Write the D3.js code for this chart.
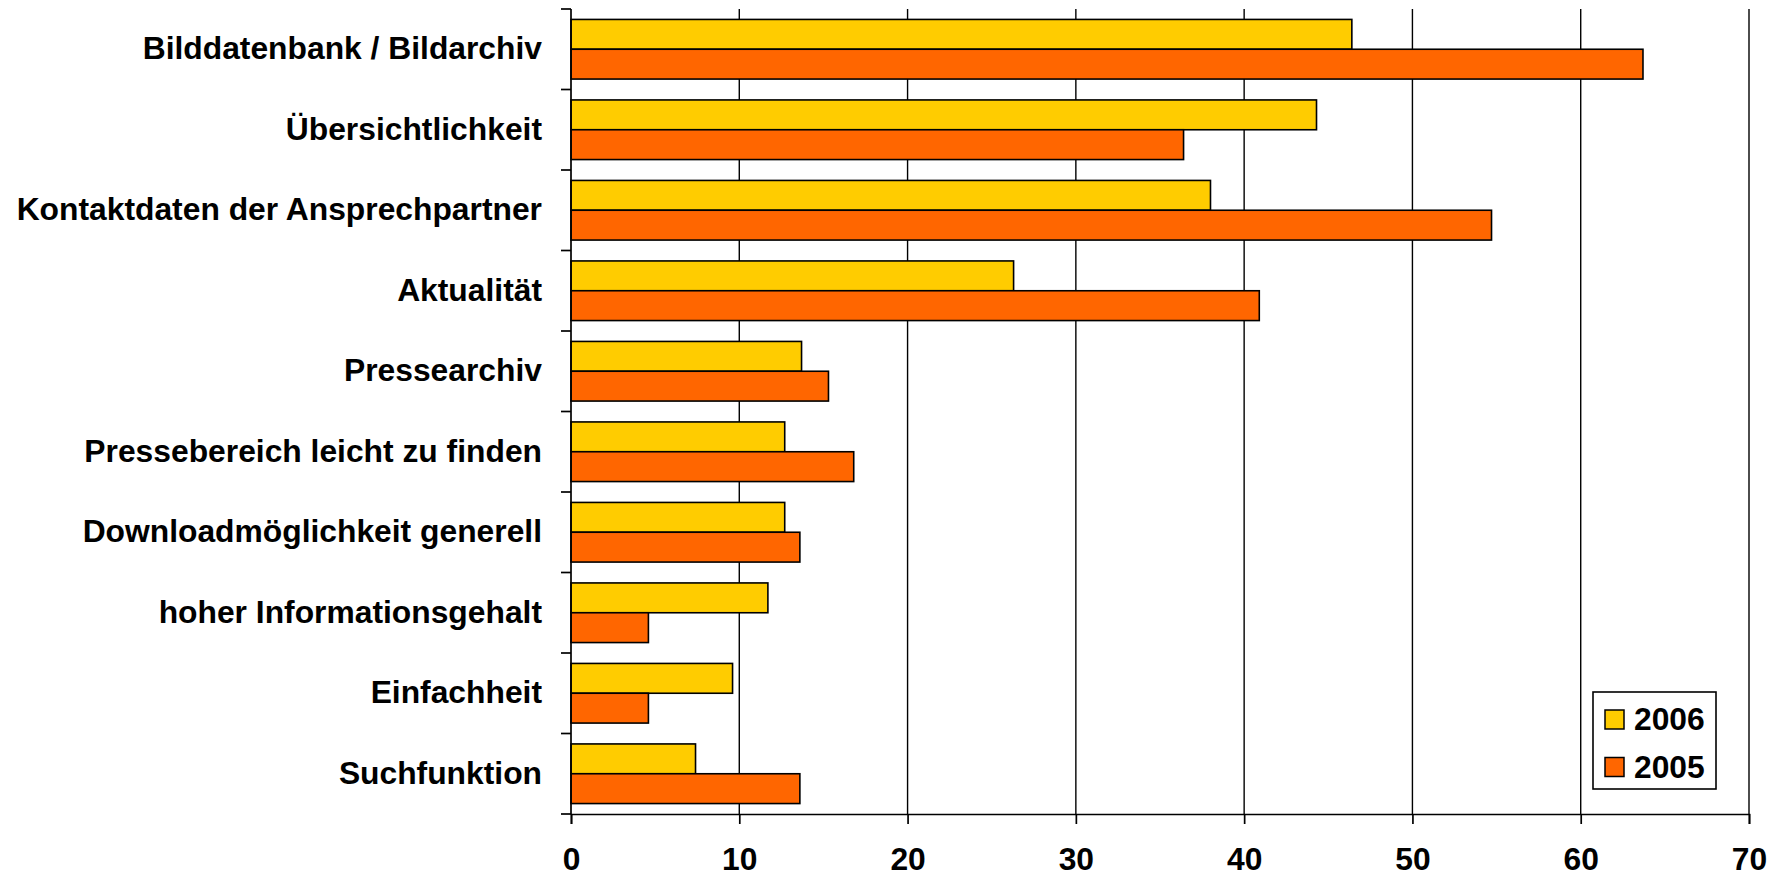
<!DOCTYPE html>
<html>
<head>
<meta charset="utf-8">
<script src="https://cdn.jsdelivr.net/npm/d3@7"></script>
<style>
  html, body { margin: 0; padding: 0; background: #fff; }
  svg { display: block; }
</style>
</head>
<body>
<script>
const categories = [
  "Bilddatenbank / Bildarchiv",
  "Übersichtlichkeit",
  "Kontaktdaten der Ansprechpartner",
  "Aktualität",
  "Pressearchiv",
  "Pressebereich leicht zu finden",
  "Downloadmöglichkeit generell",
  "hoher Informationsgehalt",
  "Einfachheit",
  "Suchfunktion"
]
const series = ["2006", "2005"]
const values2006 = [46.4, 44.3, 38.0, 26.3, 13.7, 12.7, 12.7, 11.7, 9.6, 7.4]
const values2005 = [63.7, 36.4, 54.7, 40.9, 15.3, 16.8, 13.6, 4.6, 4.6, 13.6]
const xTicks = [0, 10, 20, 30, 40, 50, 60, 70]

const colors = { "2006": "#FFCC00", "2005": "#FF6600" }
const data = categories.map((c, i) => ({
  label: c,
  "2006": values2006[i],
  "2005": values2005[i]
}))

const width = 1782, height = 878
const margin = { top: 9, right: 33, bottom: 64, left: 571 }
const innerW = width - margin.left - margin.right
const innerH = height - margin.top - margin.bottom
const font = "'Liberation Sans', Arial, Helvetica, sans-serif"
const fontSize = "31.8px"

const svg = d3.select("body").append("svg")
  .attr("width", width)
  .attr("height", height)
  .style("font-family", font)
  .style("font-weight", "bold")

const g = svg.append("g")
  .attr("transform", `translate(${margin.left},${margin.top})`)

const x = d3.scaleLinear()
  .domain([0, 70])
  .range([0, innerW])

const y = d3.scaleBand()
  .domain(categories)
  .range([0, innerH])
  .padding(0)

// gap width 70% -> 0.35 on each side of the pair
const y1 = d3.scaleBand()
  .domain(series)
  .range([0, y.bandwidth()])
  .paddingInner(0)
  .paddingOuter(0.35)

// vertical gridlines
g.append("g")
  .selectAll("line")
  .data(xTicks.slice(1))
  .enter().append("line")
    .attr("x1", d => x(d))
    .attr("x2", d => x(d))
    .attr("y1", 0)
    .attr("y2", innerH)
    .attr("stroke", "#000")
    .attr("stroke-width", 1.4)

// bars
const groups = g.append("g")
  .selectAll("g")
  .data(data)
  .enter().append("g")
    .attr("transform", d => `translate(0,${y(d.label)})`)

groups.selectAll("rect")
  .data(d => series.map(s => ({ key: s, value: d[s] })))
  .enter().append("rect")
    .attr("x", 0)
    .attr("y", d => y1(d.key))
    .attr("width", d => x(d.value))
    .attr("height", y1.bandwidth())
    .attr("fill", d => colors[d.key])
    .attr("stroke", "#000")
    .attr("stroke-width", 1.6)

// x axis
const xAxis = g.append("g")
  .attr("transform", `translate(0,${innerH})`)
  .call(d3.axisBottom(x).tickValues(xTicks).tickSize(10).tickPadding(23))
xAxis.select(".domain").attr("stroke-width", 1.7)
xAxis.selectAll(".tick line").attr("stroke-width", 1.7)
xAxis.selectAll("text")
  .style("font-family", font)
  .style("font-weight", "bold")
  .style("font-size", fontSize)
  .attr("fill", "#000")

// y axis: labels at band centres, ticks at band boundaries
const yAxis = g.append("g")
  .call(d3.axisLeft(y).tickSize(0).tickPadding(29))
yAxis.select(".domain").remove()
yAxis.selectAll("text")
  .style("font-family", font)
  .style("font-weight", "bold")
  .style("font-size", fontSize)
  .attr("fill", "#000")

const boundaries = categories.map(c => y(c)).concat([y.range()[1]])
g.append("g")
  .selectAll("line")
  .data(boundaries)
  .enter().append("line")
    .attr("x1", -10)
    .attr("x2", 0)
    .attr("y1", d => d)
    .attr("y2", d => d)
    .attr("stroke", "#000")
    .attr("stroke-width", 1.7)

g.append("line")
  .attr("x1", 0).attr("x2", 0)
  .attr("y1", 0).attr("y2", innerH)
  .attr("stroke", "#000")
  .attr("stroke-width", 1.7)

// legend
const legend = svg.append("g")
  .attr("transform", "translate(1593,692)")

legend.append("rect")
  .attr("width", 123)
  .attr("height", 97)
  .attr("fill", "#fff")
  .attr("stroke", "#000")
  .attr("stroke-width", 1.6)

const items = legend.selectAll("g")
  .data(series)
  .enter().append("g")
    .attr("transform", (d, i) => `translate(12,${18 + i * 47.5})`)

items.append("rect")
  .attr("width", 19)
  .attr("height", 19)
  .attr("fill", d => colors[d])
  .attr("stroke", "#000")
  .attr("stroke-width", 1.5)

items.append("text")
  .attr("x", 29)
  .attr("y", 20)
  .style("font-size", fontSize)
  .text(d => d)
</script>
</body>
</html>
